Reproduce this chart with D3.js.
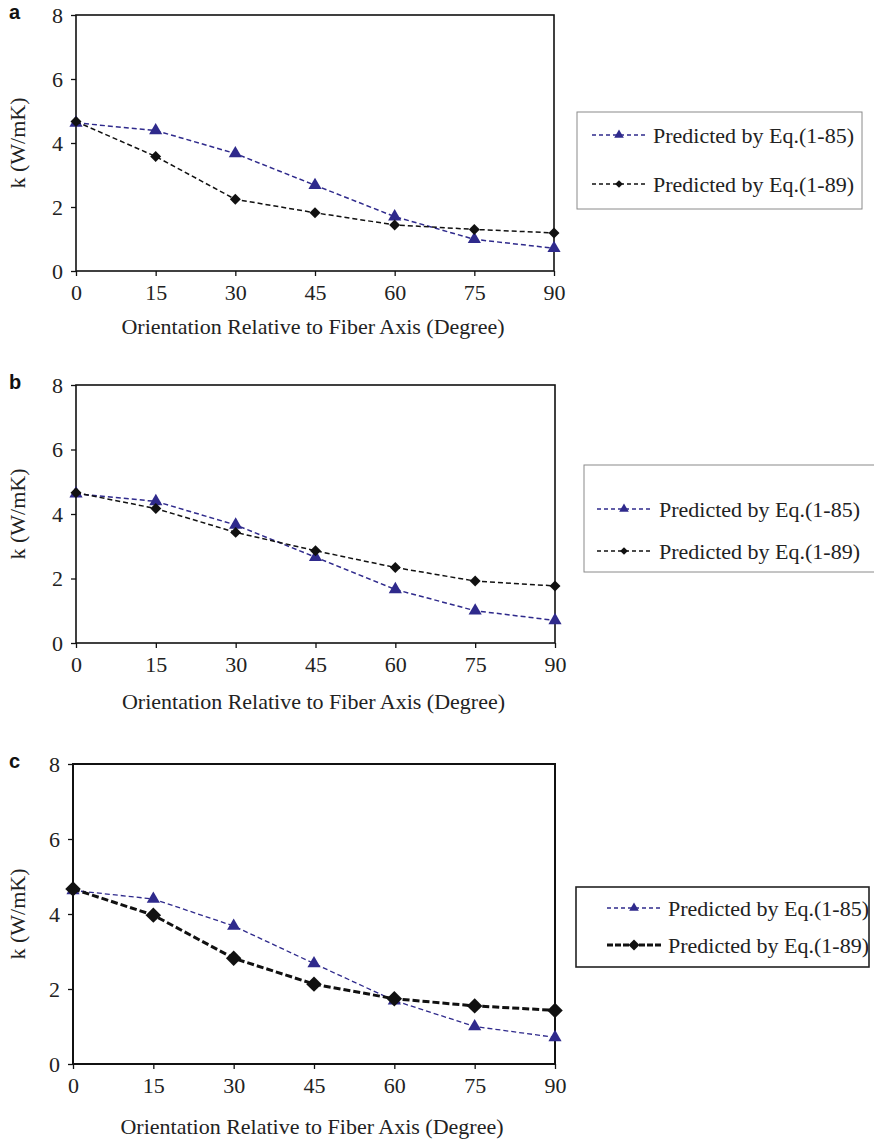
<!DOCTYPE html>
<html>
<head>
<meta charset="utf-8">
<script src="https://cdn.jsdelivr.net/npm/d3@7"></script>
<style>
  html, body { margin: 0; padding: 0; background: #fff; }
  svg { display: block; font-family: "Liberation Serif", serif; }
  svg text { font-family: "Liberation Serif", serif; }
  svg text.letter { font-family: "Liberation Sans", sans-serif; font-weight: bold; }
</style>
</head>
<body>
<svg id="chart" width="874" height="1139"></svg>
<script>
// ---- data ----
const angles = [0, 15, 30, 45, 60, 75, 90];
const yTicks = [0, 2, 4, 6, 8];
const seriesNames = ["Predicted by Eq.(1-85)", "Predicted by Eq.(1-89)"];
const panelLetters = ["a", "b", "c"];
const xTitle = "Orientation Relative to Fiber Axis (Degree)";
const yTitle = "k (W/mK)";

const aEq185 = [4.63, 4.39, 3.67, 2.68, 1.70, 0.99, 0.71];
const aEq189 = [4.67, 3.58, 2.24, 1.82, 1.44, 1.30, 1.19];
const bEq185 = [4.63, 4.39, 3.66, 2.66, 1.66, 1.00, 0.70];
const bEq189 = [4.66, 4.17, 3.43, 2.86, 2.34, 1.92, 1.77];
const cEq185 = [4.63, 4.40, 3.68, 2.68, 1.69, 1.00, 0.71];
const cEq189 = [4.67, 3.97, 2.82, 2.13, 1.74, 1.55, 1.43];

// ---- layout (not data) ----
const panels = [
  { letter: panelLetters[0], s1: aEq185, s2: aEq189,
    L: 76, R: 554, T: 15, B: 271, tickY: 300, titleY: 334, frameW: 1.6,
    leg: { x0: 577, x1: 862, y0: 112, y1: 209, rows: [135, 184], lx0: 592, lx1: 646, tx: 653, stroke: "#8a8a8a", sw: 1 },
    thick: false },
  { letter: panelLetters[1], s1: bEq185, s2: bEq189,
    L: 76, R: 555, T: 385, B: 643, tickY: 672, titleY: 709, frameW: 1.6,
    leg: { x0: 584, x1: 900, y0: 465, y1: 572, rows: [509, 551], lx0: 597, lx1: 651, tx: 659, stroke: "#8a8a8a", sw: 1 },
    thick: false },
  { letter: panelLetters[2], s1: cEq185, s2: cEq189,
    L: 73, R: 555, T: 764, B: 1064, tickY: 1093, titleY: 1134, frameW: 2,
    leg: { x0: 576, x1: 869, y0: 887, y1: 967, rows: [908, 945], lx0: 607, lx1: 661, tx: 668, stroke: "#222", sw: 1.6 },
    thick: true }
];

const blue = "#2f2a8c";
const svg = d3.select("#chart");

// diamond = square rotated 45 degrees
function diamondPath(size) {
  return d3.symbol().type(d3.symbolSquare).size(size)();
}

panels.forEach(p => {
  const g = svg.append("g");
  const x = d3.scaleLinear().domain([0, 90]).range([p.L, p.R]);
  const y = d3.scaleLinear().domain([0, 8]).range([p.B, p.T]);

  // frame
  g.append("rect").attr("x", p.L).attr("y", p.T)
    .attr("width", p.R - p.L).attr("height", p.B - p.T)
    .attr("fill", "none").attr("stroke", "#111").attr("stroke-width", p.frameW);

  // axes
  const xAxis = d3.axisBottom(x).tickValues(angles).tickSize(5).tickSizeOuter(0).tickPadding(0);
  const xg = g.append("g").attr("transform", `translate(0,${p.B})`).call(xAxis)
    .attr("font-family", null).attr("font-size", null);
  xg.select(".domain").remove();
  xg.selectAll("line").attr("stroke", "#111").attr("stroke-width", 1.3);
  xg.selectAll("text").attr("y", p.tickY - p.B).attr("dy", null)
    .attr("font-size", 22).attr("fill", "#222");

  const yAxis = d3.axisLeft(y).tickValues(yTicks).tickSize(5).tickSizeOuter(0).tickPadding(8);
  const yg = g.append("g").attr("transform", `translate(${p.L},0)`).call(yAxis)
    .attr("font-family", null).attr("font-size", null);
  yg.select(".domain").remove();
  yg.selectAll("line").attr("stroke", "#111").attr("stroke-width", 1.3);
  yg.selectAll("text").attr("font-size", 22).attr("fill", "#222");

  // titles
  g.append("text").attr("x", (p.L + p.R) / 2 - 2).attr("y", p.titleY)
    .attr("text-anchor", "middle").attr("font-size", 22)
    .attr("fill", "#222").text(xTitle);
  g.append("text")
    .attr("transform", `translate(25,${(p.T + p.B) / 2}) rotate(-90)`)
    .attr("text-anchor", "middle").attr("font-size", 22)
    .attr("fill", "#222").text(yTitle);

  // panel letter
  g.append("text").attr("class", "letter").attr("x", 9).attr("y", p.T + 4)
    .attr("font-size", 20).attr("fill", "#111").text(p.letter);

  // lines
  const line = d3.line().x((d, i) => x(angles[i])).y(d => y(d));
  const defs = [
    { data: p.s1, color: blue, width: p.thick ? 1.3 : 1.5, diamond: false, size: 75 },
    { data: p.s2, color: "#111", width: p.thick ? 3 : 1.5, diamond: true, size: p.thick ? 120 : 60 }
  ];
  const markerPath = (s, size) => s.diamond ? diamondPath(size)
    : d3.symbol().type(d3.symbolTriangle).size(size)();
  const markerRot = s => s.diamond ? " rotate(45)" : "";

  defs.forEach(s => {
    g.append("path").datum(s.data).attr("d", line)
      .attr("fill", "none").attr("stroke", s.color).attr("stroke-width", s.width)
      .attr("stroke-dasharray", p.thick && s.diamond ? "7,3" : "5,3");
    g.selectAll(null).data(s.data).enter().append("path")
      .attr("d", markerPath(s, s.size))
      .attr("transform", (d, i) => `translate(${x(angles[i])},${y(d)})` + markerRot(s))
      .attr("fill", s.color);
  });

  // legend
  const lg = p.leg;
  g.append("rect").attr("x", lg.x0).attr("y", lg.y0)
    .attr("width", lg.x1 - lg.x0).attr("height", lg.y1 - lg.y0)
    .attr("fill", "#fff").attr("stroke", lg.stroke).attr("stroke-width", lg.sw);
  defs.forEach((s, i) => {
    const ry = lg.rows[i];
    const bold = p.thick && s.diamond;
    g.append("line").attr("x1", lg.lx0).attr("x2", lg.lx1)
      .attr("y1", ry).attr("y2", ry).attr("stroke", s.color)
      .attr("stroke-width", bold ? 3 : 1.5)
      .attr("stroke-dasharray", bold ? "6,2" : "4,3");
    g.append("path").attr("d", markerPath(s, s.diamond ? (bold ? 60 : 30) : 40))
      .attr("transform", `translate(${(lg.lx0 + lg.lx1) / 2},${ry})` + markerRot(s))
      .attr("fill", s.color);
    g.append("text").attr("x", lg.tx).attr("y", ry).attr("dy", "0.35em")
      .attr("font-size", 22).attr("fill", "#222")
      .text(seriesNames[i]);
  });
});
</script>
</body>
</html>
